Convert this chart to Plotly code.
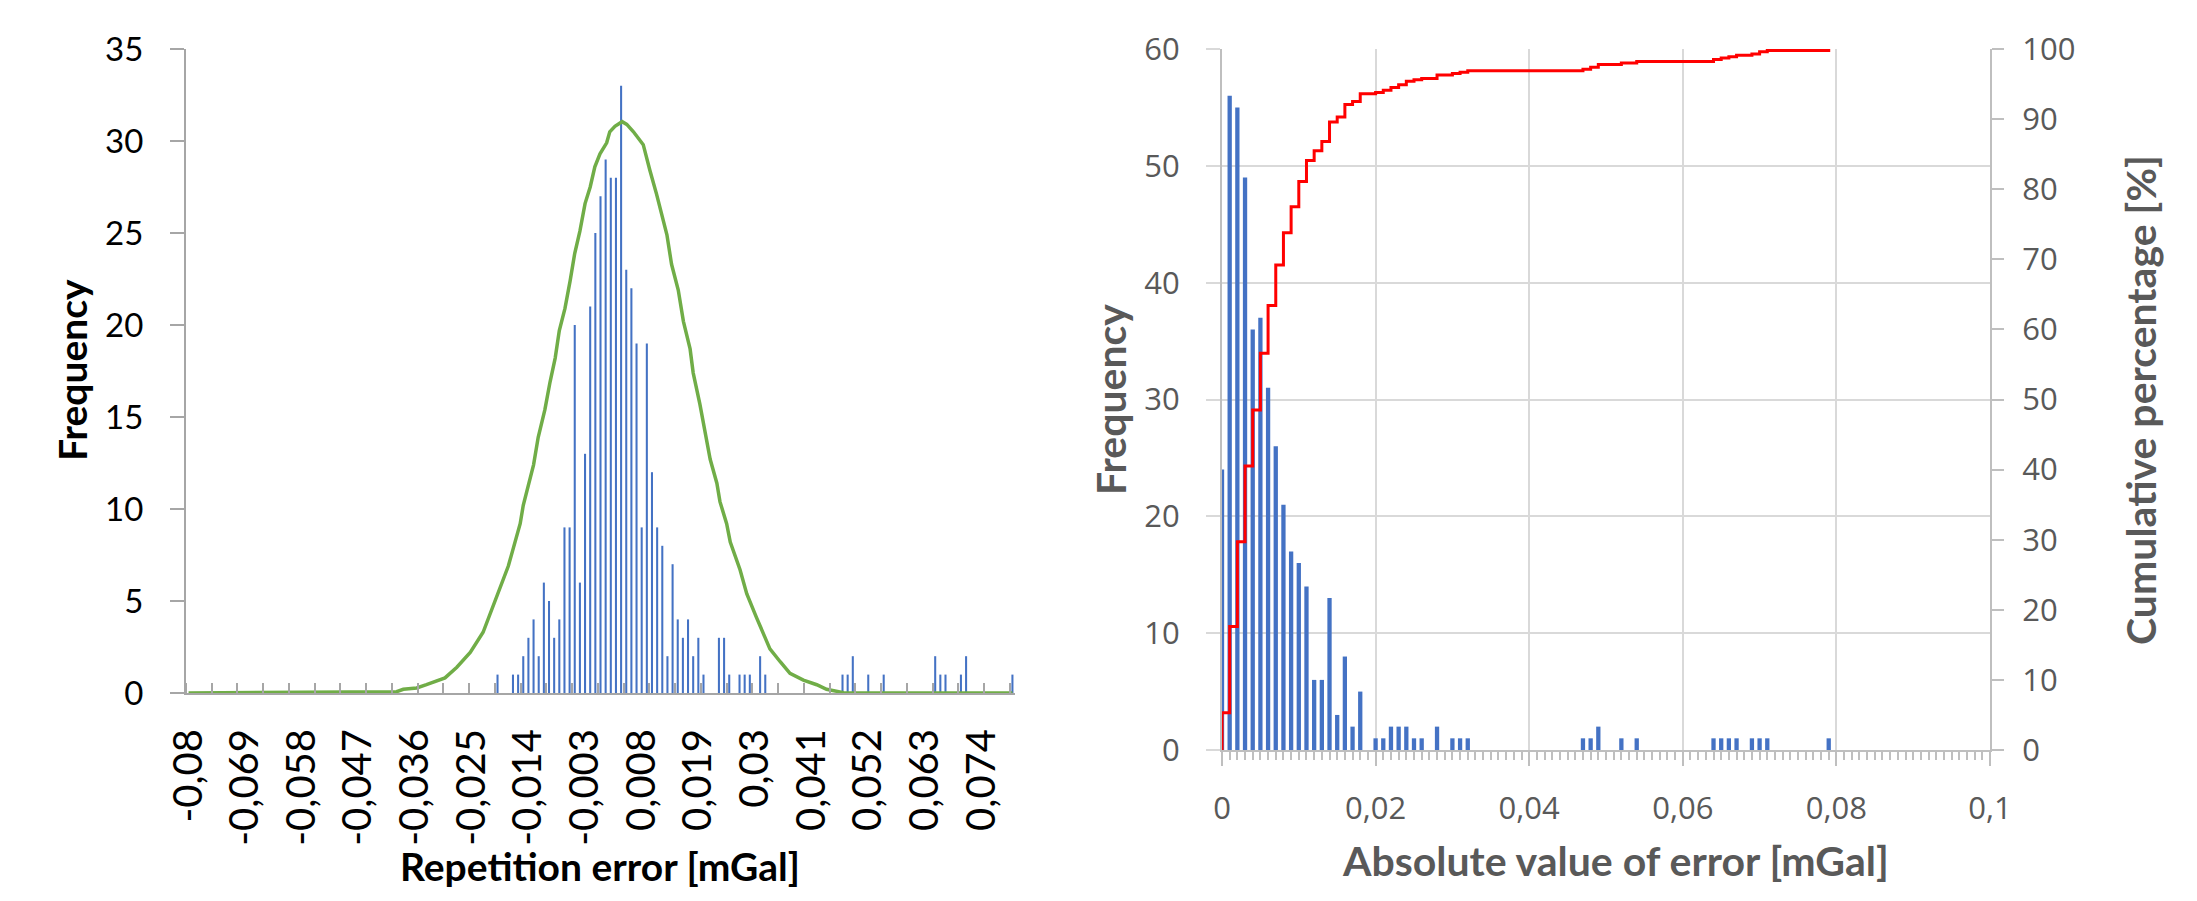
import plotly.graph_objects as go

# left chart: repetition error histogram (category step 0.001 mGal)
err_vals = [-0.020, -0.017, -0.016, -0.015, -0.014, -0.013, -0.012, -0.011, -0.010, -0.009,
            -0.008, -0.007, -0.006, -0.005, -0.004, -0.003, -0.002, -0.001, 0.000, 0.001,
            0.002, 0.003, 0.004, 0.005, 0.006, 0.007, 0.008, 0.009, 0.010, 0.011,
            0.012, 0.013, 0.014, 0.015, 0.016, 0.017, 0.018, 0.019, 0.020, 0.023,
            0.024, 0.025, 0.027, 0.028, 0.029, 0.031, 0.032, 0.047, 0.048, 0.049,
            0.052, 0.055, 0.065, 0.066, 0.067, 0.070, 0.071, 0.080]
err_freq = [1, 1, 1, 2, 3, 4, 2, 6, 5, 3,
            4, 9, 9, 20, 6, 13, 21, 25, 27, 29,
            28, 28, 33, 23, 22, 19, 9, 19, 12, 9,
            8, 2, 7, 4, 3, 4, 2, 3, 1, 3,
            3, 1, 1, 1, 1, 2, 1, 1, 1, 2,
            1, 1, 2, 1, 1, 1, 2, 1]

# fitted normal curve
fit_x = [-0.0800, -0.0422, -0.0396, -0.0383, -0.0357, -0.0338, -0.0302, -0.0279, -0.0253, -0.0228,
         -0.0202, -0.0179, -0.0169, -0.0156, -0.0150, -0.0130, -0.0121, -0.0108, -0.0098, -0.0088,
         -0.0080, -0.0069, -0.0059, -0.0050, -0.0040, -0.0030, -0.0020, -0.0011, -0.0001, 0.0012,
         0.0018, 0.0028, 0.0042, 0.0051, 0.0064, 0.0083, 0.0096, 0.0109, 0.0129, 0.0138,
         0.0151, 0.0161, 0.0174, 0.0180, 0.0193, 0.0206, 0.0213, 0.0226, 0.0232, 0.0245,
         0.0252, 0.0271, 0.0284, 0.0303, 0.0316, 0.0329, 0.0349, 0.0368, 0.0394, 0.0420,
         0.0439, 0.0472, 0.0800]
fit_y = [0.0, 0.05, 0.07, 0.2, 0.27, 0.45, 0.82, 1.4, 2.2, 3.3,
         5.2, 6.9, 7.9, 9.2, 10.2, 12.4, 13.9, 15.4, 16.9, 18.2,
         19.7, 20.9, 22.4, 23.9, 25.1, 26.6, 27.5, 28.6, 29.3, 29.9,
         30.5, 30.8, 31.05, 30.9, 30.5, 29.8, 28.4, 27.1, 24.9, 23.3,
         21.9, 20.2, 18.7, 17.4, 15.7, 13.9, 12.7, 11.4, 10.4, 9.2,
         8.2, 6.7, 5.4, 4.1, 3.2, 2.4, 1.7, 1.07, 0.7, 0.45,
         0.2, 0.02, 0.0]

left_tickvals = [-0.08, -0.069, -0.058, -0.047, -0.036, -0.025, -0.014, -0.003,
                 0.008, 0.019, 0.03, 0.041, 0.052, 0.063, 0.074]
left_ticktext = ["-0,08", "-0,069", "-0,058", "-0,047", "-0,036", "-0,025", "-0,014", "-0,003",
                 "0,008", "0,019", "0,03", "0,041", "0,052", "0,063", "0,074"]

# right chart: absolute error histogram + cumulative percentage
abs_err = [0.000, 0.001, 0.002, 0.003, 0.004, 0.005, 0.006, 0.007, 0.008, 0.009,
           0.010, 0.011, 0.012, 0.013, 0.014, 0.015, 0.016, 0.017, 0.018, 0.020,
           0.021, 0.022, 0.023, 0.024, 0.025, 0.026, 0.028, 0.030, 0.031, 0.032,
           0.047, 0.048, 0.049, 0.052, 0.054, 0.064, 0.065, 0.066, 0.067, 0.069,
           0.070, 0.071, 0.079]
abs_freq = [24, 56, 55, 49, 36, 37, 31, 26, 21, 17,
            16, 14, 6, 6, 13, 3, 8, 2, 5, 1,
            1, 2, 2, 2, 1, 1, 2, 1, 1, 1,
            1, 1, 2, 1, 1, 1, 1, 1, 1, 1,
            1, 1, 1]
cum_pct = [5.3, 17.6, 29.7, 40.5, 48.5, 56.6, 63.4, 69.2, 73.8, 77.5,
           81.1, 84.1, 85.5, 86.8, 89.6, 90.3, 92.1, 92.5, 93.6, 93.8,
           94.1, 94.5, 94.9, 95.4, 95.6, 95.8, 96.3, 96.5, 96.7, 96.9,
           97.1, 97.4, 97.8, 98.0, 98.2, 98.5, 98.7, 98.9, 99.1, 99.3,
           99.6, 99.8, 100.0]

W, H = 2197, 901
BLUE = "#4472C4"
AX = "#A6A6A6"
RAX = "#BFBFBF"
GRID = "#D9D9D9"
GREY_TXT = "#595959"

fig = go.Figure()
fig.add_trace(go.Bar(x=err_vals, y=err_freq, width=0.0004, marker_color=BLUE,
                     marker_line_width=0, xaxis="x", yaxis="y"))
fig.add_trace(go.Scatter(x=fit_x, y=fit_y, mode="lines",
                         line=dict(color="#70AD47", width=3.5), xaxis="x", yaxis="y"))
fig.add_trace(go.Bar(x=abs_err, y=abs_freq, width=0.00056, marker_color=BLUE,
                     marker_line_width=0, xaxis="x2", yaxis="y2"))
fig.add_trace(go.Scatter(x=[0] + abs_err, y=[0] + cum_pct, mode="lines",
                         line=dict(color="#FF0000", width=3, shape="hv"),
                         xaxis="x2", yaxis="y3"))

left_yfont = dict(family="Lato", size=33, color="black")
left_xfont = dict(family="Lato", size=40, color="black")
right_font = dict(family="Open Sans", size=31, color=GREY_TXT)

fig.update_layout(
    width=W, height=H,
    margin=dict(l=0, r=0, t=0, b=0, autoexpand=False),
    paper_bgcolor="white", plot_bgcolor="white",
    showlegend=False, barmode="overlay",
    separators=", ",
    xaxis=dict(domain=[186 / W, 1015 / W], range=[-0.0805, 0.0805], anchor="y",
               automargin=False,
               tickmode="array", tickvals=left_tickvals, ticktext=left_ticktext,
               tickangle=-90, ticks="", tickfont=left_xfont, ticklabelstandoff=18,
               showline=True, linecolor=AX, linewidth=2, showgrid=False, zeroline=False,
               minor=dict(ticks="inside", ticklen=10, tickwidth=2, tickcolor=AX,
                          tick0=-0.0805, dtick=0.005, showgrid=False)),
    yaxis=dict(domain=[1 - 693 / H, 1 - 49 / H], range=[0, 35], dtick=5, anchor="x",
               automargin=False,
               ticks="outside", ticklen=14, tickwidth=2, tickcolor=AX,
               tickfont=left_yfont, ticklabelstandoff=20,
               showline=True, linecolor=AX, linewidth=2, showgrid=False, zeroline=False),
    xaxis2=dict(domain=[1222 / W, 1990 / W], range=[0, 0.1], dtick=0.02, anchor="y2",
                automargin=False,
                ticks="outside", ticklen=14, tickwidth=2, tickcolor=RAX,
                tickfont=right_font, ticklabelstandoff=16,
                showline=True, linecolor=RAX, linewidth=2,
                showgrid=True, gridcolor=GRID, gridwidth=2, zeroline=False,
                minor=dict(ticks="outside", ticklen=8, tickwidth=2, tickcolor=RAX,
                           dtick=0.001, showgrid=False)),
    yaxis2=dict(domain=[1 - 750 / H, 1 - 49 / H], range=[0, 60], dtick=10, anchor="x2",
                automargin=False,
                ticks="outside", ticklen=14, tickwidth=2, tickcolor=GRID,
                tickfont=right_font, ticklabelstandoff=20,
                showline=True, linecolor=RAX, linewidth=2,
                showgrid=True, gridcolor=GRID, gridwidth=2, zeroline=False),
    yaxis3=dict(overlaying="y2", side="right", range=[0, 100], dtick=10, anchor="x2",
                automargin=False,
                ticks="outside", ticklen=12, tickwidth=2, tickcolor=RAX,
                tickfont=right_font, ticklabelstandoff=12,
                showline=True, linecolor=RAX, linewidth=2,
                showgrid=False, zeroline=False),
)

title_left = dict(family="Lato", size=39, color="black", weight="bold")
title_right = dict(family="Lato", size=41, color=GREY_TXT, weight="bold")
titles = [
    ("Frequency", 72, 370, -90, title_left),
    ("Repetition error [mGal]", 600, 866, 0, title_left),
    ("Frequency", 1110, 400, -90, title_right),
    ("Absolute value of error [mGal]", 1615, 860, 0, title_right),
    ("Cumulative percentage [%]", 2140, 400, -90, title_right),
]
for txt, px, py, ang, fnt in titles:
    fig.add_annotation(text=txt, x=px / W, y=1 - py / H, xref="paper", yref="paper",
                       xanchor="center", yanchor="middle", textangle=ang,
                       showarrow=False, font=fnt)

fig.write_html("out.html", config={"displayModeBar": False},
               post_script="document.body.style.margin='0px';")
